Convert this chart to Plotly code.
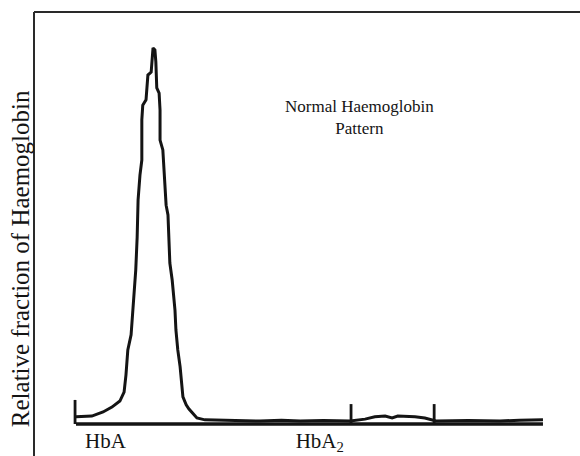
import plotly.graph_objects as go

# Densitometer trace (migration position 0-100, relative fraction with HbA peak = 100)
trace_x = [0, 3.4, 5.8, 7.7, 9.4, 10.3, 10.7, 11.1, 11.8, 12.2, 12.4, 12.8, 13.1, 13.3, 13.7,
           14.1, 14.1, 14.3, 15.0, 15.2, 15.4, 16.1, 16.3, 16.5, 16.9, 17.1, 17.3, 17.8, 18.0,
           18.0, 18.6, 18.8, 19.1, 19.3, 19.7, 19.9, 20.1, 20.6, 20.8, 21.2, 21.4, 21.8, 22.3,
           22.7, 22.9, 23.6, 24.2, 25.1, 25.9, 27.6, 33.0, 39.4, 44.0, 48.0, 53.0, 58.7, 61.9,
           64.0, 66.2, 67.7, 68.9, 70.4, 72.6, 74.7, 76.2, 77.1, 84.0, 90.8, 95.0, 97.2, 100]
trace_y = [1.9, 2.1, 3.2, 4.5, 6.1, 8.5, 13.0, 19.7, 23.7, 30.3, 33.8, 41.0, 49.7, 59.6, 66.2,
           70.2, 80.9, 84.8, 86.2, 91.5, 92.8, 93.6, 98.1, 100, 99.5, 96.3, 89.4, 88.0, 83.5,
           75.5, 72.9, 67.6, 62.2, 58.2, 55.6, 48.9, 42.8, 38.3, 35.6, 30.3, 25.0, 19.7, 15.2,
           10.4, 7.2, 5.1, 4.0, 2.7, 1.6, 1.1, 0.9, 0.8, 1.0, 0.8, 0.9, 0.8, 1.3,
           1.9, 2.1, 1.6, 2.1, 2.1, 1.9, 1.6, 1.1, 0.8, 0.9, 0.8, 1.0, 1.1, 1.1]

# Baseline and fraction boundary markers
baseline_x = [0, 100]
baseline_y = [0, 0]
marker_x = [-0.2, 58.9, 76.7]
marker_h = [6.4, 5.3, 5.3]

# Band labels
band_pos = [6.3, 52.2]
band_labels = ["HbA", "HbA<sub>2</sub>"]

FONT = "Liberation Serif"
INK = "#141414"

fig = go.Figure()
fig.add_trace(go.Scatter(x=baseline_x, y=baseline_y, mode="lines",
                         line=dict(color=INK, width=3.5), hoverinfo="skip", showlegend=False))
for mx, mh in zip(marker_x, marker_h):
    fig.add_trace(go.Scatter(x=[mx, mx], y=[0, mh], mode="lines",
                             line=dict(color=INK, width=2.8), hoverinfo="skip", showlegend=False))
fig.add_trace(go.Scatter(x=trace_x, y=trace_y, mode="lines",
                         line=dict(color=INK, width=3), showlegend=False))

fig.add_annotation(x=60.8, y=81.4, xref="x", yref="y",
                   text="Normal Haemoglobin<br>Pattern", showarrow=False,
                   font=dict(family=FONT, size=17, color=INK), align="center")
fig.add_annotation(x=-0.0256, y=0.403, xref="paper", yref="paper",
                   text="Relative fraction of Haemoglobin", textangle=-90, showarrow=False,
                   font=dict(family=FONT, size=25, color=INK),
                   xanchor="center", yanchor="middle")

# frame (left and top edges)
fig.add_shape(type="line", xref="paper", yref="paper", x0=0, x1=0, y0=-0.08, y1=1,
              line=dict(color="#2a2a2a", width=2))
fig.add_shape(type="line", xref="paper", yref="paper", x0=0, x1=1, y0=1, y1=1,
              line=dict(color="#2a2a2a", width=2))

fig.update_layout(
    width=580, height=456,
    margin=dict(l=34, r=0, t=12, b=30),
    paper_bgcolor="white", plot_bgcolor="white",
    xaxis=dict(range=[-8.99, 107.93], showgrid=False, zeroline=False, showline=False,
               tickmode="array", tickvals=band_pos, ticktext=band_labels, ticks="",
               tickfont=dict(family=FONT, size=21, color=INK), fixedrange=True),
    yaxis=dict(range=[-0.53, 109.57], showgrid=False, zeroline=False, showline=False,
               showticklabels=False, ticks="", fixedrange=True),
)

fig.write_html("out.html", config=dict(displayModeBar=False),
               post_script="document.body.style.margin='0';document.body.style.overflow='hidden';")
